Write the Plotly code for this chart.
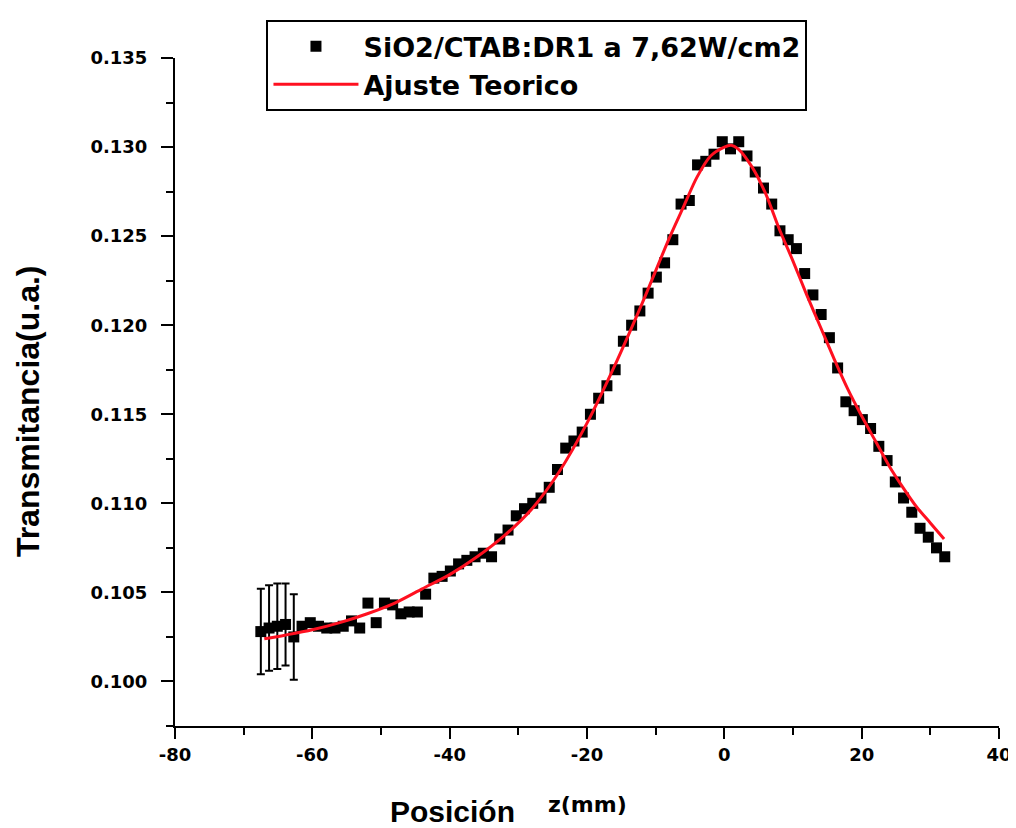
import plotly.graph_objects as go

# Measured data (z in mm, transmittance in a.u.)
z_data = [-67.5, -66.3, -65.1, -63.9, -62.7, -61.5, -60.3, -59.1, -57.9, -56.7,
          -55.5, -54.3, -53.1, -51.9, -50.7, -49.5, -48.3, -47.1, -45.9, -44.7,
          -43.5, -42.3, -41.1, -39.9, -38.7, -37.5, -36.3, -35.1, -33.9, -32.7,
          -31.5, -30.3, -29.1, -27.9, -26.7, -25.5, -24.3, -23.1, -21.9, -20.7,
          -19.5, -18.3, -17.1, -15.9, -14.7, -13.5, -12.3, -11.1, -9.9, -8.7,
          -7.5, -6.3, -5.1, -3.9, -2.7, -1.5, -0.3, 0.9, 2.1, 3.3,
          4.5, 5.7, 6.9, 8.1, 9.3, 10.5, 11.7, 12.9, 14.1, 15.3,
          16.5, 17.7, 18.9, 20.1, 21.3, 22.5, 23.7, 24.9, 26.1, 27.3,
          28.5, 29.7, 30.9, 32.1]
t_data = [0.1028, 0.1030, 0.1031, 0.1032, 0.1025, 0.1031, 0.1033, 0.1031, 0.1030, 0.1030,
          0.1031, 0.1034, 0.1030, 0.1044, 0.1033, 0.1044, 0.1043, 0.1038, 0.1039, 0.1039,
          0.1049, 0.1058, 0.1059, 0.1062, 0.1066, 0.1068, 0.1070, 0.1072, 0.1070, 0.1080,
          0.1085, 0.1093, 0.1097, 0.1100, 0.1103, 0.1109, 0.1119, 0.1131, 0.1135, 0.1140,
          0.1150, 0.1159, 0.1166, 0.1175, 0.1191, 0.1200, 0.1208, 0.1218, 0.1227, 0.1235,
          0.1248, 0.1268, 0.1270, 0.1290, 0.1292, 0.1296, 0.1303, 0.1299, 0.1303, 0.1295,
          0.1286, 0.1277, 0.1268, 0.1253, 0.1248, 0.1243, 0.1229, 0.1217, 0.1206, 0.1193,
          0.1176, 0.1157, 0.1152, 0.1147, 0.1142, 0.1132, 0.1124, 0.1112, 0.1103, 0.1095,
          0.1086, 0.1081, 0.1075, 0.1070]
t_err = [0.0024, 0.0024, 0.0024, 0.0023, 0.0024] + [None] * (len(z_data) - 5)

# Theoretical fit curve
z_fit = [-67, -64, -60, -56, -52, -48, -44, -40, -36, -32, -28, -24, -20, -16, -12,
         -8, -6, -4, -2, 0, 1, 2, 4, 6, 8, 10, 12, 14, 16, 18, 20, 22, 24, 26, 28, 30, 32]
t_fit = [0.1024, 0.1026, 0.1029, 0.1033, 0.1038, 0.1044, 0.1052, 0.1060, 0.1070, 0.1082,
         0.1097, 0.1118, 0.1145, 0.1177, 0.1212, 0.1249, 0.1266, 0.1283, 0.1295, 0.1300,
         0.1301, 0.1299, 0.1289, 0.1274, 0.1254, 0.1236, 0.1217, 0.1199, 0.1181, 0.1164,
         0.1149, 0.1135, 0.1121, 0.1109, 0.1098, 0.1089, 0.1080]

label_data = "SiO2/CTAB:DR1 a 7,62W/cm2"
label_fit = "Ajuste Teorico"

x_ticks = [-80, -60, -40, -20, 0, 20, 40]
x_ticktext = ["-80", "-60", "-40", "-20", "0", "20", "40"]
y_ticks = [0.100, 0.105, 0.110, 0.115, 0.120, 0.125, 0.130, 0.135]

fig = go.Figure()
fig.add_trace(go.Scatter(
    x=z_data, y=t_data, mode="markers", name=label_data,
    legendgroup="a",
    marker=dict(symbol="square", size=11, color="black"),
    error_y=dict(type="data", array=t_err, visible=True, color="black",
                 thickness=2, width=4),
))
fig.add_trace(go.Scatter(
    x=z_fit, y=t_fit, mode="lines", name=label_fit,
    legendgroup="b",
    line=dict(color="#ff1020", width=3, shape="spline", smoothing=0.8),
))

tickfont = dict(family="DejaVu Sans", size=18, color="black", weight="bold")

fig.update_layout(
    width=1016, height=828,
    margin=dict(l=167, r=23, t=47, b=110),
    paper_bgcolor="white", plot_bgcolor="white",
    showlegend=True,
    legend=dict(
        x=0.111, y=1.0566, xanchor="left", yanchor="top",
        bgcolor="white", bordercolor="black", borderwidth=2,
        font=dict(family="DejaVu Sans", size=27, color="black", weight="bold"),
        tracegroupgap=0, itemwidth=85,
    ),
    xaxis=dict(
        range=[-80, 40], tickvals=x_ticks, ticktext=x_ticktext,
        showgrid=False, zeroline=False,
        showline=True, linecolor="black", linewidth=2,
        ticks="outside", ticklen=11, tickwidth=2, tickcolor="black",
        tickfont=tickfont,
        minor=dict(dtick=10, ticks="outside", ticklen=7, tickwidth=2, tickcolor="black"),
    ),
    yaxis=dict(
        range=[0.0975, 0.135], tickvals=y_ticks, tickformat=".3f",
        showgrid=False, zeroline=False,
        showline=True, linecolor="black", linewidth=2,
        ticks="outside", ticklen=12, tickwidth=2, tickcolor="black",
        tickfont=tickfont, ticklabelstandoff=10,
        minor=dict(dtick=0.0025, ticks="outside", ticklen=7, tickwidth=2, tickcolor="black"),
    ),
    annotations=[
        dict(text="Transmitancia(u.a.)", textangle=-90, showarrow=False,
             xref="paper", yref="paper", x=-0.1775, y=0.471,
             xanchor="center", yanchor="middle",
             font=dict(family="Liberation Sans", size=32, color="black", weight="bold")),
        dict(text="Posición", showarrow=False,
             xref="paper", yref="paper", x=0.3366, y=-0.1275,
             xanchor="center", yanchor="middle",
             font=dict(family="Liberation Sans", size=30, color="black", weight="bold")),
        dict(text="z(mm)", showarrow=False,
             xref="paper", yref="paper", x=0.5, y=-0.117,
             xanchor="center", yanchor="middle",
             font=dict(family="DejaVu Sans", size=22, color="black", weight="bold")),
    ],
)

fig.write_html("out.html")
